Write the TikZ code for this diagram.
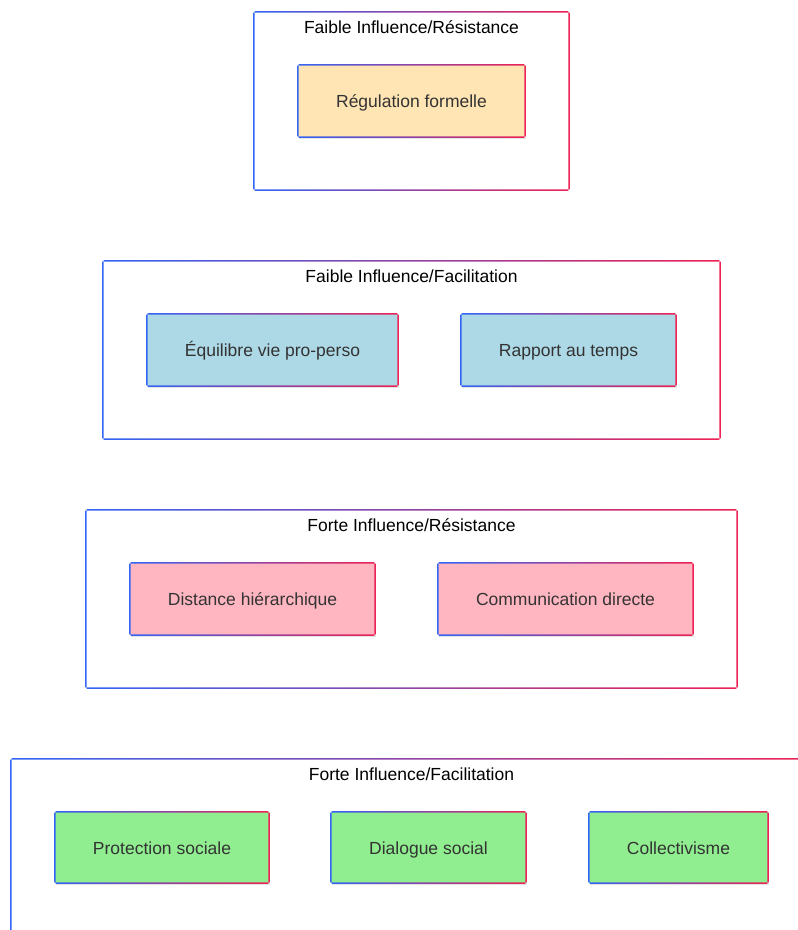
\documentclass[tikz,border=0pt]{standalone}
\usepackage{fontspec}
\setmainfont{Liberation Sans}
\usetikzlibrary{shadows}
\definecolor{gblue}{HTML}{3366F5}
\definecolor{gred}{HTML}{EE2255}
\definecolor{corange}{HTML}{FFE5B4}
\definecolor{cblue}{HTML}{ADD8E6}
\definecolor{cpink}{HTML}{FFB6C1}
\definecolor{cgreen}{HTML}{90EE90}
\definecolor{ctext}{HTML}{333333}
\newcommand{\gframe}[2]{%
  \shade[even odd rule, left color=gblue, right color=gred]
    ([shift={(-#2,#2)}]#1.south west) rectangle ([shift={(#2,-#2)}]#1.north east)
    ([shift={(#2,-#2)}]#1.south west) rectangle ([shift={(-#2,#2)}]#1.north east);}
\tikzset{
  grp/.style={rectangle, inner sep=0pt, minimum height=178pt},
  item/.style={rectangle, inner sep=0pt, minimum height=72pt, fill=#1, text=ctext,
    text height=14.6pt, text depth=1.6pt,
    drop shadow={opacity=0.22, shadow xshift=1pt, shadow yshift=-1.5pt}},
  ttl/.style={inner sep=0pt, text=black, text height=14.6pt, text depth=1.6pt},
}
\begin{document}
\begin{tikzpicture}[x=1pt, y=-1pt, font=\fontsize{17.5}{21}\selectfont]
\useasboundingbox (0,0) rectangle (798,930);
\clip (0,0) rectangle (798,930);
\fill[white] (0,0) rectangle (798,930);
% group 1
\node[grp, minimum width=315pt] (g1) at (411.5,101) {};
\gframe{g1}{0.75pt}
\node[ttl] (t1) at (411.5,27) {Faible Influence/Résistance};
\node[item=corange, minimum width=227pt] (a1) at (411.5,101) {Régulation formelle};
\gframe{a1}{0.75pt}
% group 2
\node[grp, minimum width=617pt] (g2) at (411.5,350) {};
\gframe{g2}{0.75pt}
\node[ttl] (t2) at (411.5,276) {Faible Influence/Facilitation};
\node[item=cblue, minimum width=251pt] (b1) at (272.5,350) {Équilibre vie pro-perso};
\gframe{b1}{0.75pt}
\node[item=cblue, minimum width=215pt] (b2) at (568.5,350) {Rapport au temps};
\gframe{b2}{0.75pt}
% group 3
\node[grp, minimum width=651pt] (g3) at (411.5,599) {};
\gframe{g3}{0.75pt}
\node[ttl] (t3) at (411.5,525) {Forte Influence/Résistance};
\node[item=cpink, minimum width=245pt] (c1) at (252.5,599) {Distance hiérarchique};
\gframe{c1}{0.75pt}
\node[item=cpink, minimum width=255pt] (c2) at (565.5,599) {Communication directe};
\gframe{c2}{0.75pt}
% group 4
\node[grp, minimum width=801pt] (g4) at (411.5,848) {};
\gframe{g4}{0.75pt}
\node[ttl] (t4) at (411.5,774) {Forte Influence/Facilitation};
\node[item=cgreen, minimum width=214pt, minimum height=71pt] (d1) at (162,847.5) {Protection sociale};
\gframe{d1}{0.75pt}
\node[item=cgreen, minimum width=195pt, minimum height=71pt] (d2) at (428.5,847.5) {Dialogue social};
\gframe{d2}{0.75pt}
\node[item=cgreen, minimum width=179pt, minimum height=71pt] (d3) at (678.5,847.5) {Collectivisme};
\gframe{d3}{0.75pt}
\end{tikzpicture}
\end{document}
